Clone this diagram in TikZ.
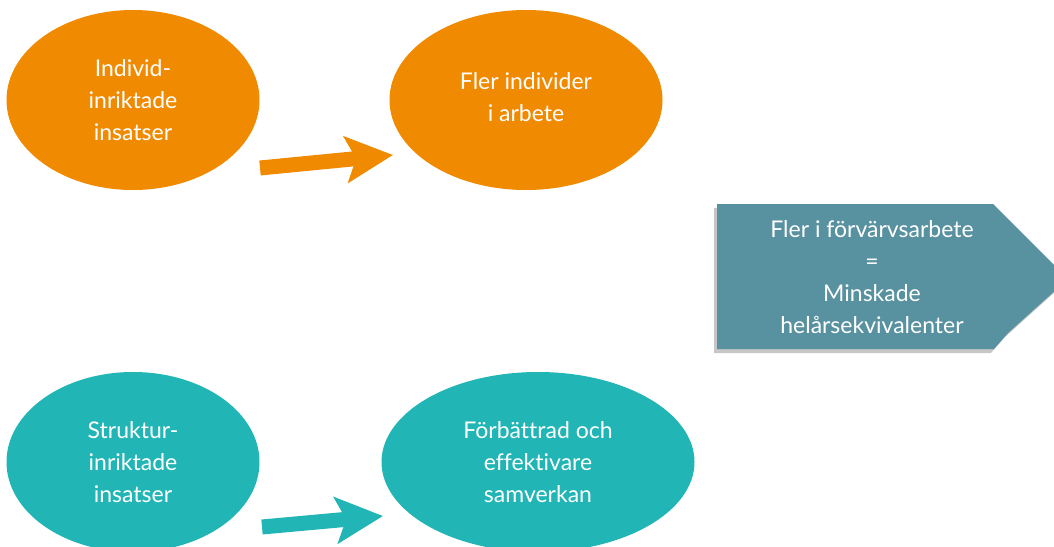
\documentclass[tikz,border=0pt]{standalone}
\usepackage{fontspec}
\setmainfont{Lato}[Ligatures=NoCommon]
\usetikzlibrary{positioning,shapes,shadows,arrows,arrows.meta,fit}
\definecolor{orangefill}{RGB}{240,138,0}
\definecolor{tealfill}{RGB}{33,181,181}
\definecolor{resultfill}{RGB}{88,145,160}
\tikzset{
  ellipsebox/.style={ellipse, inner sep=0pt, text=white, align=center, font=\fontsize{23}{32}\selectfont},
  blockarrow/.style={line width=15pt, -{Stealth[length=47pt,width=46pt,inset=10pt]}},
}

\begin{document}
\begin{tikzpicture}[x=1pt,y=-1pt]
\useasboundingbox (0,0) rectangle (1054,546);
\node[ellipsebox, fill=orangefill, minimum width=253pt, minimum height=180pt] (individ) at (133,100) {Individ-\\inriktade\\insatser};
\node[ellipsebox, fill=orangefill, minimum width=273pt, minimum height=180pt] (arbete) at (526,100) {};
\node[text=white, align=center, font=\fontsize{23}{32}\selectfont] (arbetetext) at ([yshift=3pt]arbete.center) {Fler individer\\i arbete};
\node[ellipsebox, fill=tealfill, minimum width=253pt, minimum height=180pt] (struktur) at (133,462) {Struktur-\\inriktade\\insatser};
\node[ellipsebox, fill=tealfill, minimum width=313pt, minimum height=180pt] (samverkan) at (538,462) {Förbättrad och\\effektivare\\samverkan};
\coordinate (individtail) at (260,168);
\coordinate (arbetetip) at (393,155);
\coordinate (strukturtail) at (262,527);
\coordinate (samverkantip) at (383,516);
\draw[blockarrow, orangefill] (individtail) -- (arbetetip);
\draw[blockarrow, tealfill] (strukturtail) -- (samverkantip);
\fill[resultfill, drop shadow={shadow xshift=-3pt, shadow yshift=-4pt, opacity=0.45}]
  (717,204) -- (993,204) -- (1068,279) -- (1008,333) -- (994,349) -- (717,349) -- cycle;
\node[text=white, align=center, font=\fontsize{23}{32}\selectfont] (result) at (872,277) {Fler i förvärvsarbete\\=\\Minskade\\helårsekvivalenter};
\end{tikzpicture}
\end{document}
